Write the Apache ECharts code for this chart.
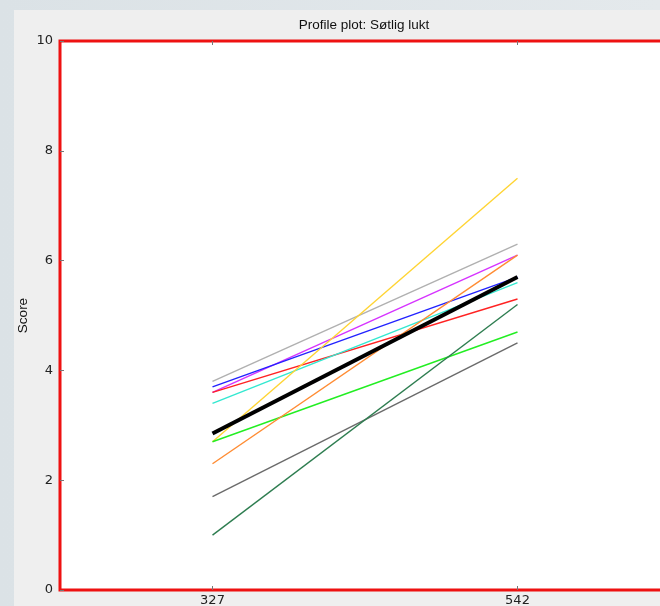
<!DOCTYPE html>
<html>
<head>
<meta charset="utf-8">
<script src="https://cdn.jsdelivr.net/npm/echarts@6/dist/echarts.min.js"></script>
<style>
  html, body { margin: 0; padding: 0; width: 660px; height: 606px; overflow: hidden; }
  body { background: linear-gradient(90deg, #dbe2e6, #e4e9ec); }
  #main { position: absolute; left: 14px; top: 10px; width: 646px; height: 596px; }
</style>
</head>
<body>
<div id="main"></div>
<script>
// two sampling points on the x axis
var categories = ["327", "542"];

// one profile per assessor
var lightGray = [3.8, 6.3];
var blue = [3.7, 5.7];
var magenta = [3.6, 6.1];
var red = [3.6, 5.3];
var cyan = [3.4, 5.6];
var gold = [2.7, 7.5];
var lime = [2.7, 4.7];
var orange = [2.3, 6.1];
var dimGray = [1.7, 4.5];
var seaGreen = [1.0, 5.2];
// mean profile (thick black)
var mean = [2.85, 5.7];

var yTicks = [0, 2, 4, 6, 8, 10];

var chart = echarts.init(document.getElementById("main"));

function line(name, data, color, width) {
  return {
    name: name,
    type: "line",
    data: data,
    symbol: "none",
    silent: true,
    lineStyle: { color: color, width: width || 1.4 },
  };
}

var option = {
  backgroundColor: "#efefef",
  animation: false,
  title: {
    text: "Profile plot: Søtlig lukt",
    left: 345,
    top: 3,
    textAlign: "center",
    textStyle: {
      fontFamily: "Liberation Sans Narrow, Liberation Sans, sans-serif",
      fontWeight: "normal",
      fontSize: 13.5,
      color: "#111",
    },
  },
  grid: {
    left: 46,
    top: 31,
    width: 610,
    height: 549,
    containLabel: false,
    outerBoundsMode: "none",
    show: true,
    backgroundColor: "#ffffff",
    borderColor: "#ee1111",
    borderWidth: 3,
    z: 0,
  },
  xAxis: [
    {
      type: "category",
      data: categories,
      boundaryGap: true,
      axisLine: { show: false },
      axisTick: { show: true, inside: true, alignWithLabel: true, length: 4, lineStyle: { color: "#777" } },
      axisLabel: { fontFamily: "DejaVu Sans", fontSize: 13, color: "#222", margin: 4 },
      splitLine: { show: false },
    },
    {
      type: "category",
      position: "top",
      data: categories,
      boundaryGap: true,
      axisLine: { show: false },
      axisTick: { show: true, inside: true, alignWithLabel: true, length: 4, lineStyle: { color: "#777" } },
      axisLabel: { show: false },
    },
  ],
  yAxis: {
    type: "value",
    min: yTicks[0],
    max: yTicks[yTicks.length - 1],
    interval: 2,
    name: "Score",
    nameLocation: "middle",
    nameRotate: 90,
    nameGap: 30,
    nameMoveOverlap: false,
    nameTextStyle: {
      fontFamily: "Liberation Sans Narrow, Liberation Sans, sans-serif",
      fontSize: 13.5,
      color: "#111",
    },
    axisLine: { show: false },
    axisTick: { show: true, inside: true, length: 4, lineStyle: { color: "#777" } },
    axisLabel: { fontFamily: "DejaVu Sans", fontSize: 13, color: "#222", margin: 7 },
    splitLine: { show: false },
  },
  series: [
    line("lightGray", lightGray, "#b0b0b0"),
    line("magenta", magenta, "#d633ff"),
    line("blue", blue, "#2222ff"),
    line("red", red, "#ff2222"),
    line("cyan", cyan, "#33e8d0"),
    line("gold", gold, "#ffd433"),
    line("lime", lime, "#22ee22"),
    line("orange", orange, "#ff8c33"),
    line("dimGray", dimGray, "#6a6a6a"),
    line("seaGreen", seaGreen, "#2e7d50"),
    line("mean", mean, "#000000", 4),
  ],
};

chart.setOption(option);
</script>
</body>
</html>
